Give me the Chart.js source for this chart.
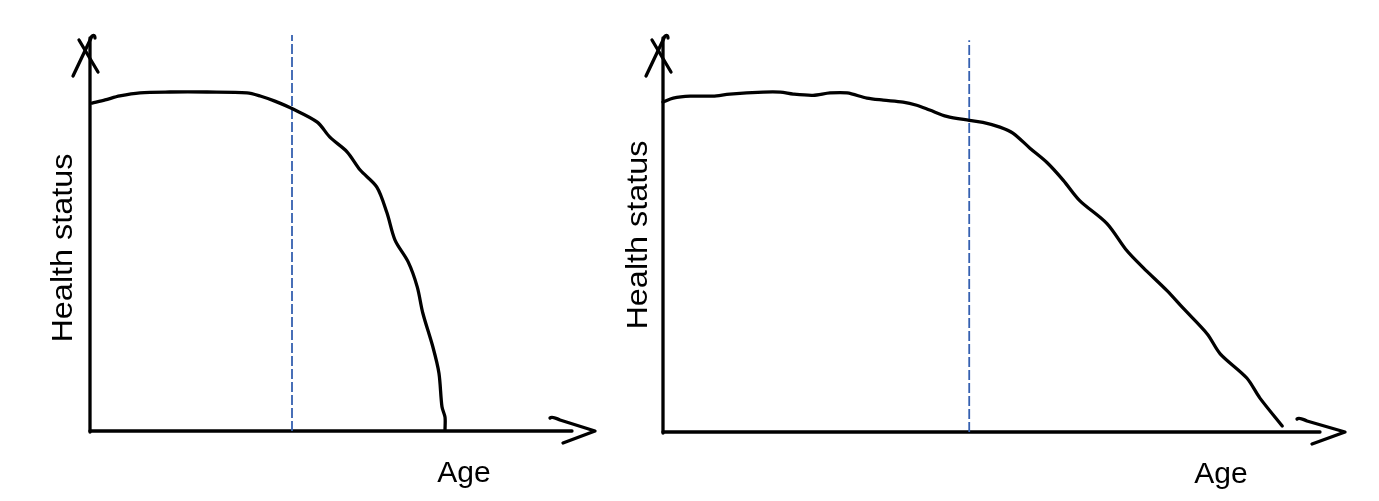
<!DOCTYPE html>
<html>
<head>
<meta charset="utf-8">
<script src="https://cdn.jsdelivr.net/npm/chart.js@4.4.1/dist/chart.umd.min.js"></script>
<style>
  html, body { margin: 0; padding: 0; background: #ffffff; }
  #wrap { position: relative; width: 1379px; height: 501px; overflow: hidden; }
  canvas { position: absolute; top: 0; }
</style>
</head>
<body>
<div id="wrap">
  <canvas id="left" width="620" height="501" style="left:0px"></canvas>
  <canvas id="right" width="759" height="501" style="left:620px"></canvas>
</div>
<script>
// ---- Data (age 0-100 along x, health status 0-100 along y) ----
const yAxisTitle = "Health status";
const xAxisTitle = "Age";

// Left panel: rapid late-life decline
const leftAge    = [0.4, 3.0, 5.9, 9.9, 15.8, 23.2, 31.1, 33.7, 36.6, 40.2, 45.0, 47.5, 50.9, 53.5, 56.8, 58.8, 60.4, 63.0, 64.8, 65.9, 67.9, 69.1, 69.7, 70.3, 70.3];
const leftHealth = [82.8, 83.6, 84.6, 85.4, 85.6, 85.6, 85.4, 84.6, 83.3, 81.3, 78.0, 74.2, 70.5, 65.9, 61.6, 55.1, 48.2, 42.7, 36.4, 29.8, 21.2, 14.6, 6.1, 3.5, 0.3];
const leftMarkerAge = 40.0;

// Right panel: gradual decline
const rightAge    = [0.0, 1.5, 4.0, 7.3, 9.8, 14.7, 17.2, 19.1, 22.0, 24.5, 27.0, 29.9, 32.3, 35.2, 37.2, 39.1, 41.6, 44.9, 46.9, 49.4, 51.3, 53.8, 56.3, 58.7, 61.1, 65.1, 68.0, 70.4, 73.9, 76.2, 79.8, 81.7, 85.6, 87.5, 90.8];
const rightHealth = [83.1, 84.1, 84.6, 84.6, 85.1, 85.6, 85.6, 85.1, 84.8, 85.4, 85.4, 84.1, 83.6, 83.1, 82.3, 81.1, 79.5, 78.5, 78.0, 76.8, 75.3, 71.5, 67.9, 63.4, 58.3, 52.5, 45.7, 41.4, 35.6, 31.3, 24.7, 19.7, 13.6, 8.6, 1.5];
const rightMarkerAge = 44.9;

const markerTopLeft = 100;
const markerTopRight = 98.7;

function pts(xs, ys) { return xs.map((x, i) => ({ x: x, y: ys[i] })); }

// Plugin: hand-drawn style axes with arrowheads and titles
function axesPlugin(opts) {
  return {
    id: 'sketchAxes',
    beforeDatasetsDraw(chart) {
      const ctx = chart.ctx;
      const a = chart.chartArea;
      const L = a.left, B = a.bottom, T = a.top, R = a.right;
      ctx.save();
      ctx.strokeStyle = '#000';
      ctx.lineWidth = 3.3;
      ctx.lineCap = 'round';
      ctx.lineJoin = 'round';
      // y axis
      ctx.beginPath();
      ctx.moveTo(L, B + 1);
      ctx.lineTo(L, T + 3);
      ctx.stroke();
      // y arrowhead
      ctx.beginPath();
      ctx.moveTo(L - 17, T + 41);
      ctx.lineTo(L + 2, T + 1);
      ctx.quadraticCurveTo(L + 5, T - 1, L + 5, T + 3);
      ctx.stroke();
      ctx.beginPath();
      ctx.moveTo(L - 11, T + 5);
      ctx.lineTo(L + 8, T + 37);
      ctx.stroke();
      // x axis
      ctx.beginPath();
      ctx.moveTo(L, B);
      ctx.lineTo(R - opts.xEnd, B);
      ctx.stroke();
      // x arrowhead
      ctx.beginPath();
      ctx.moveTo(R - opts.upX, B - 13);
      ctx.quadraticCurveTo(R - opts.upX + 2, B - 15, R - opts.upX + 10, B - 11);
      ctx.lineTo(R, B);
      ctx.lineTo(R - opts.loX, B + 12);
      ctx.stroke();
      ctx.restore();
    },
    afterDraw(chart) {
      const ctx = chart.ctx;
      ctx.save();
      ctx.fillStyle = '#000';
      ctx.font = '30px "Liberation Sans", Arial, sans-serif';
      ctx.textAlign = 'center';
      ctx.textBaseline = 'middle';
      // y title (rotated)
      ctx.save();
      ctx.translate(opts.yTitleX, opts.yTitleY);
      ctx.rotate(-Math.PI / 2);
      ctx.scale(1.08, 1);
      ctx.fillText(yAxisTitle, 0, 0);
      ctx.restore();
      // x title
      ctx.textBaseline = 'alphabetic';
      ctx.fillText(xAxisTitle, opts.xTitleX, opts.xTitleY);
      ctx.restore();
    }
  };
}

function makeChart(id, curve, markerAge, markerTop, padding, plugOpts) {
  return new Chart(document.getElementById(id), {
    type: 'scatter',
    data: {
      datasets: [
        {
          data: curve,
          showLine: true,
          borderColor: '#000000',
          borderWidth: 3.3,
          pointRadius: 0,
          tension: 0.3,
          fill: false,
          borderCapStyle: 'round',
          borderJoinStyle: 'round'
        },
        {
          data: [{ x: markerAge, y: 0 }, { x: markerAge, y: markerTop }],
          showLine: true,
          borderColor: '#3560b0',
          borderWidth: 1.8,
          borderDash: [10, 3],
          pointRadius: 0,
          fill: false
        }
      ]
    },
    options: {
      responsive: false,
      animation: false,
      layout: { padding: padding },
      plugins: { legend: { display: false }, tooltip: { enabled: false }, title: { display: false } },
      scales: {
        x: { type: 'linear', min: 0, max: 100, display: false },
        y: { type: 'linear', min: 0, max: 100, display: false }
      },
      clip: false
    },
    plugins: [axesPlugin(plugOpts)]
  });
}

makeChart('left', pts(leftAge, leftHealth), leftMarkerAge, markerTopLeft,
  { left: 90, right: 25, top: 35, bottom: 70 },
  { xEnd: 23, upX: 45, loX: 32, yTitleX: 64, yTitleY: 248, xTitleX: 464, xTitleY: 482 });

makeChart('right', pts(rightAge, rightHealth), rightMarkerAge, markerTopRight,
  { left: 43, right: 34, top: 35, bottom: 69 },
  { xEnd: 25, upX: 48, loX: 33, yTitleX: 19, yTitleY: 235, xTitleX: 601, xTitleY: 483 });
</script>
</body>
</html>
